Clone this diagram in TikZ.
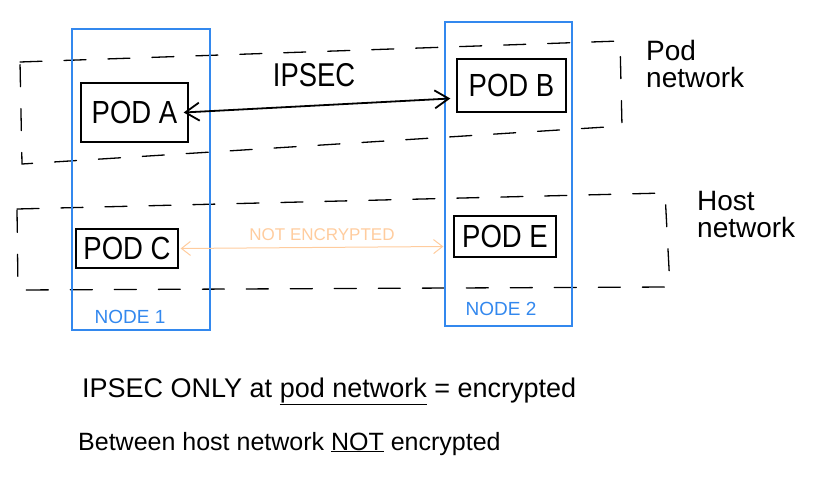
\documentclass[tikz,border=0pt]{standalone}
\usepackage{fontspec}
\setmainfont{Liberation Sans}
\usetikzlibrary{arrows.meta,calc}
\definecolor{nodeblue}{RGB}{51,136,238}
\definecolor{peach}{RGB}{255,204,158}
\newcommand{\narrow}[1]{\scalebox{0.86}[1]{#1}}
\begin{document}
\begin{tikzpicture}[x=1pt,y=-1pt,
  netline/.style={draw=black,line width=1.3pt,dash pattern=on 22pt off 22pt,line cap=round},
  hostbox/.style={draw=nodeblue,line width=1.5pt,minimum width=#1},
  podbox/.style={draw=black,line width=1.3pt,inner sep=0pt,font=\fontsize{32}{34}\selectfont},
  nodelabel/.style={text=nodeblue,font=\fontsize{19}{20}\selectfont},
  netlabel/.style={align=left,inner sep=0pt,font=\fontsize{28}{27}\selectfont},
  note/.style={anchor=base west,inner sep=0pt}
]
\useasboundingbox (0,0) rectangle (818,476);
% networks
\draw[netline] (20,62) -- (620,41) -- (622,126) -- (22,164) -- cycle;
\draw[netline] (17,209) -- (665,193) -- (670,287) -- (18,290) -- cycle;
% hosts
\node[hostbox=138pt,minimum height=301pt] (node1) at (141,179.5) {};
\node[hostbox=127pt,minimum height=304pt] (node2) at (508.5,174) {};
\node[nodelabel] (n1lab) at (130,317) {NODE 1};
\node[nodelabel] (n2lab) at (501,309) {NODE 2};
% pods
\node[podbox,minimum width=107pt,minimum height=59pt] (podA) at (134.5,112.5) {\narrow{POD A}};
\node[podbox,minimum width=109pt,minimum height=53pt] (podB) at (511.5,85.5) {\narrow{POD B}};
\node[podbox,minimum width=102pt,minimum height=39pt] (podC) at (127,248.5) {\narrow{POD C}};
\node[podbox,minimum width=102pt,minimum height=41pt] (podE) at (505,236.5) {\narrow{POD E}};
% connectors
\draw[line width=1.8pt,{Straight Barb[length=14pt,width=18pt]}-{Straight Barb[length=14pt,width=18pt]}]
  ($(podA.east)+(-5,0)$) -- ($(podB.west)+(-6,13)$);
\draw[peach,line width=1pt,{Straight Barb[length=9pt,width=14pt]}-{Straight Barb[length=9pt,width=14pt]}]
  ($(podC.east)+(2,0)$) -- ($(podE.west)+(-10,10)$);
\node[font=\fontsize{33}{34}\selectfont] (ipsec) at (314,75) {\scalebox{0.83}[1]{IPSEC}};
\node[text=peach,font=\fontsize{17}{18}\selectfont] (notenc) at (322,235) {NOT ENCRYPTED};
% network labels
\node[netlabel,anchor=north west] (podnet) at (646,40) {Pod\\network};
\node[netlabel,anchor=north west] (hostnet) at (697,191) {Host\\network};
% notes
\node[note,font=\fontsize{27}{28}\selectfont] (note1) at (82,397) {IPSEC ONLY at \underline{pod network} = encrypted};
\node[note,font=\fontsize{25}{26}\selectfont] (note2) at (78,450) {Between host network \underline{NOT} encrypted};
\end{tikzpicture}
\end{document}
